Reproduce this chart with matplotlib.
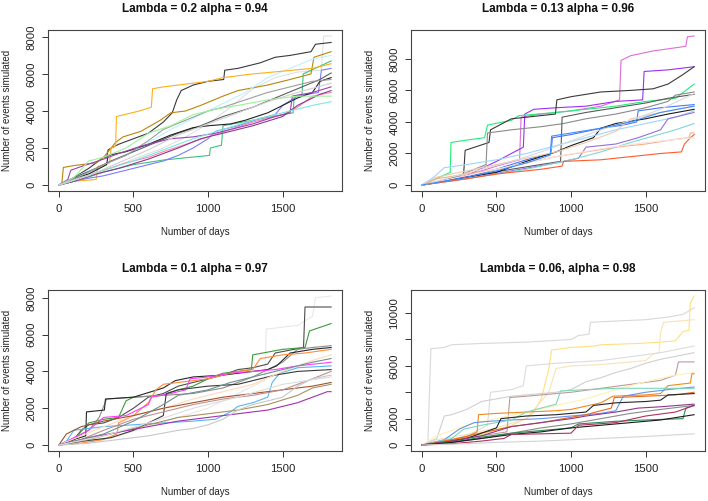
import matplotlib
matplotlib.use("Agg")
import matplotlib.pyplot as plt
from matplotlib.ticker import FixedLocator, FixedFormatter

plt.rcParams['font.family'] = ['Liberation Sans', 'DejaVu Sans']

END_DAY = 1825

TITLES = ["Lambda = 0.2 alpha = 0.94", "Lambda = 0.13 alpha = 0.96",
          "Lambda = 0.1 alpha = 0.97", "Lambda = 0.06, alpha = 0.98"]
X_TICKS = [0, 500, 1000, 1500]
Y_TICKS = [[0, 2000, 4000, 6000, 8000], [0, 2000, 4000, 6000, 8000],
           [0, 2000, 4000, 6000, 8000], [0, 2000, 4000, 6000, 8000, 10000]]
Y_LABELS = [["0", "2000", "4000", "6000", "8000"], ["0", "2000", "4000", "6000", "8000"],
            ["0", "2000", "4000", "6000", "8000"], ["0", "2000", "", "6000", "", "10000"]]

# ---------------- Panel 1 ----------------
P1_PATHS = [
    [(0,0),(80,200),(200,600),(350,900),(500,1400),(700,2000),(850,2600),(1000,3300),(1150,4200),(1300,5200),(1450,5800),(1600,6100),(1760,6200),(1775,8050),(1825,8050)],
    [(0,0),(40,100),(120,500),(200,900),(300,1500),(320,1500),(330,1900),(400,2200),(500,2500),(600,2800),(700,3400),(760,3900),(790,4600),(820,5100),(900,5400),(1000,5600),(1105,5700),(1112,6200),(1200,6300),(1350,6600),(1450,6900),(1550,7000),(1690,7200),(1720,7600),(1825,7700)],
    [(0,0),(20,100),(30,950),(100,1050),(250,1200),(300,1500),(380,2300),(430,2600),(550,2900),(680,3500),(750,3900),(850,4000),(950,4300),(1100,4800),(1200,5100),(1400,5400),(1550,5700),(1690,6000),(1710,6900),(1825,7200)],
    [(0,0),(150,600),(300,1100),(450,1600),(600,2300),(750,3000),(900,3600),(1100,4400),(1250,5000),(1400,5800),(1550,6300),(1700,6800),(1825,7000)],
    [(0,0),(150,300),(300,700),(500,1100),(700,1350),(1010,1600),(1015,2000),(1090,2150),(1100,3200),(1300,3500),(1500,3800),(1570,3900),(1578,4800),(1630,4900),(1638,6000),(1825,6700)],
    [(0,0),(100,200),(250,300),(260,1000),(340,1200),(350,2000),(380,2100),(386,3700),(540,4000),(620,4200),(628,5200),(700,5300),(850,5450),(1000,5600),(1100,5800),(1300,6000),(1500,6150),(1700,6300),(1825,6550)],
    [(0,0),(150,300),(300,500),(400,700),(550,1000),(700,1300),(800,1600),(900,2000),(1000,2500),(1050,2900),(1200,3200),(1350,3600),(1450,3800),(1500,4300),(1600,4800),(1740,5000),(1760,6200),(1825,6300)],
    [(0,0),(100,400),(250,900),(350,1300),(500,1800),(650,2300),(800,2800),(950,3200),(1100,3700),(1300,4200),(1450,4700),(1600,5200),(1750,5700),(1825,6050)],
    [(0,0),(80,300),(200,600),(320,1100),(330,1600),(450,1800),(600,2200),(750,2700),(900,3100),(1000,3200),(1150,3300),(1250,3500),(1400,3900),(1500,4300),(1600,4700),(1700,5000),(1750,5600),(1825,5800)],
    [(0,0),(150,500),(300,1100),(450,1600),(600,2400),(700,3000),(850,3500),(1000,4000),(1100,4200),(1250,4600),(1400,5000),(1550,5300),(1700,5600),(1825,5700)],
    [(0,0),(150,400),(300,800),(450,1200),(600,1500),(700,1800),(850,2200),(1000,2600),(1150,3000),(1300,3400),(1500,3800),(1600,4200),(1700,4800),(1825,5000)],
    [(0,0),(60,300),(80,800),(150,1000),(300,1400),(400,1700),(550,2100),(750,2500),(900,2600),(1050,2800),(1150,3000),(1300,3300),(1450,3700),(1550,3900),(1565,4800),(1700,5000),(1825,5300)],
    [(0,0),(100,200),(250,600),(400,900),(600,1400),(800,2000),(950,2500),(1100,2800),(1300,3200),(1500,3700),(1600,4300),(1750,4900),(1825,5100)],
    [(0,0),(100,400),(200,1300),(300,1500),(450,2000),(600,2800),(750,3200),(900,3800),(1050,4100),(1200,4300),(1400,4600),(1600,4800),(1825,4800)],
    [(0,0),(150,400),(300,800),(500,1300),(700,1900),(900,2500),(1100,3000),(1300,3500),(1500,3900),(1700,4300),(1825,4500)],
    [(0,0),(200,500),(400,1200),(600,1900),(800,2700),(1000,3300),(1200,3900),(1400,4500),(1600,5000),(1825,5500)],
]
P1_COLORS = ["#E0E0E0", "#3A3A3A", "#B8860B", "#BFEFFF", "#3CC47C", "#FFAE1A",
             "#7B7BFF", "#5E5E5E", "#222222", "#9E9E9E", "#FF82AB", "#A040B8",
             "#8B3A8B", "#98F598", "#7FE8E0", "#CFCFCF"]

# ---------------- Panel 2 ----------------
P2_PATHS = [
    [(0,0),(300,600),(500,1200),(655,1600),(665,4300),(800,4500),(1000,4700),(1200,5000),(1325,5400),(1335,7900),(1400,8200),(1550,8500),(1700,8700),(1770,8800),(1780,9400),(1825,9450)],
    [(0,0),(300,600),(500,1500),(680,2400),(690,4500),(750,4800),(900,4900),(1100,5000),(1300,5300),(1480,5400),(1490,7200),(1650,7300),(1825,7500)],
    [(0,0),(190,800),(195,2700),(300,2850),(420,3000),(440,3800),(600,4100),(650,4400),(900,4600),(1100,4800),(1300,5000),(1500,5300),(1700,5500),(1825,6400)],
    [(0,0),(150,300),(280,700),(290,2200),(450,2700),(460,3500),(520,3800),(600,4200),(700,4300),(895,4500),(905,5400),(1000,5600),(1200,5900),(1400,6000),(1550,6100),(1650,6400),(1750,7000),(1825,7500)],
    [(0,0),(200,400),(430,1300),(440,3300),(600,3500),(800,3700),(950,3900),(1100,4200),(1300,4500),(1500,4900),(1650,5300),(1700,5700),(1825,5900)],
    [(0,0),(300,500),(600,1000),(930,1500),(940,4300),(1100,4600),(1300,4900),(1500,5200),(1650,5500),(1825,5750)],
    [(0,0),(300,500),(500,1000),(700,1600),(865,2000),(875,3000),(1000,3200),(1200,3600),(1350,3800),(1440,4000),(1450,4700),(1600,4900),(1825,5100)],
    [(0,0),(300,500),(500,800),(700,1500),(900,2100),(1000,2500),(1150,3000),(1200,3600),(1300,3900),(1500,4200),(1650,4500),(1825,4800)],
    [(0,0),(80,500),(150,1100),(300,1300),(500,1600),(700,2000),(900,2500),(1100,3000),(1300,3500),(1500,3900),(1700,4300),(1825,4700)],
    [(0,0),(100,500),(300,900),(500,1300),(700,1700),(900,2100),(1100,2700),(1300,3400),(1400,4200),(1600,4600),(1825,5000)],
    [(0,0),(300,400),(600,900),(900,1400),(1050,1700),(1100,2400),(1300,2600),(1450,3000),(1600,3500),(1650,4200),(1825,4600)],
    [(0,0),(300,400),(500,700),(700,1000),(1000,1600),(1200,2100),(1400,2700),(1550,3100),(1700,3500),(1825,3900)],
    [(0,0),(100,400),(300,700),(500,1000),(700,1400),(900,1800),(1100,2100),(1300,2400),(1500,2600),(1700,2900),(1790,3000),(1800,3300),(1825,3300)],
    [(0,0),(300,400),(500,700),(800,1000),(940,1200),(950,1500),(1200,1600),(1400,1800),(1600,2000),(1740,2100),(1760,2600),(1800,3000),(1825,3200)],
    [(0,0),(300,600),(600,1200),(900,1800),(1200,2300),(1500,2700),(1825,3000)],
    [(0,0),(200,500),(400,1000),(600,1500),(800,2100),(1000,2800),(1200,3500),(1400,4100),(1600,4800),(1825,5800)],
    [(0,0),(300,500),(500,900),(700,1400),(860,1900),(870,3100),(1000,3300),(1200,3600),(1400,4000),(1600,4600),(1825,5000)],
]
P2_COLORS = ["#DA70D6", "#A030F0", "#22EE7A", "#3A3A3A", "#8A8A8A", "#5A5A5A",
             "#4876FF", "#1A1A1A", "#9CD6FF", "#EECBAD", "#9370DB", "#7FD8D8",
             "#F4B080", "#FF5A2A", "#FBE4E1", "#DADADA", "#3C8CFF"]

# ---------------- Panel 3 ----------------
P3_PATHS = [
    [(0,0),(200,200),(400,500),(600,1000),(800,1500),(1000,2000),(1150,2600),(1300,3200),(1380,3500),(1390,6300),(1600,6500),(1700,7000),(1720,8000),(1825,8100)],
    [(0,0),(100,300),(150,800),(200,1100),(300,1200),(400,1500),(500,2000),(600,2600),(700,2800),(800,3200),(900,3400),(1000,3600),(1100,3800),(1200,4100),(1300,4200),(1400,4400),(1450,5000),(1640,5300),(1650,7500),(1825,7500)],
    [(0,0),(100,300),(200,1200),(300,1400),(400,1500),(450,2400),(500,2600),(700,2700),(800,3000),(900,3200),(1000,3600),(1100,3900),(1200,4000),(1290,4100),(1300,4900),(1500,5200),(1650,5300),(1680,6200),(1825,6600)],
    [(0,0),(40,100),(200,800),(270,1500),(320,2500),(500,2600),(700,2700),(900,2800),(1100,3100),(1300,3700),(1500,4500),(1600,5200),(1700,5300),(1825,5400)],
    [(0,0),(100,300),(180,500),(185,1800),(305,1900),(312,2500),(500,2600),(700,3100),(780,3500),(900,3700),(1100,3800),(1300,4000),(1400,4100),(1460,4300),(1550,5000),(1700,5200),(1825,5300)],
    [(0,0),(150,100),(300,300),(390,600),(400,1200),(500,1600),(600,2300),(650,3000),(700,3300),(800,3400),(900,3500),(1000,3600),(1100,3800),(1200,4000),(1300,4100),(1350,4700),(1500,4900),(1650,5000),(1825,5200)],
    [(0,0),(100,400),(200,800),(300,1500),(450,1600),(600,2200),(620,2600),(750,2800),(850,3000),(880,3600),(1000,3700),(1150,3900),(1300,4000),(1450,4100),(1600,4300),(1825,4500)],
    [(0,0),(50,200),(100,800),(200,900),(300,1000),(500,1100),(700,1200),(900,1300),(1050,1400),(1150,1800),(1200,2100),(1300,2300),(1400,2600),(1430,3400),(1480,3900),(1600,4200),(1825,4300)],
    [(0,0),(150,200),(350,400),(500,800),(600,1200),(700,1600),(720,2800),(800,3000),(1000,3200),(1200,3300),(1300,3500),(1450,3800),(1600,4000),(1825,4100)],
    [(0,0),(150,500),(300,1000),(500,1600),(700,2000),(900,2500),(1100,2900),(1300,3300),(1500,4000),(1700,4600),(1825,4900)],
    [(0,0),(50,600),(150,1000),(300,1300),(500,1600),(700,2000),(900,2300),(1100,2600),(1300,2800),(1500,3000),(1700,3200),(1825,3400)],
    [(0,0),(150,300),(300,800),(500,1400),(700,1800),(900,2200),(1100,2500),(1300,2700),(1500,3000),(1700,3600),(1825,4000)],
    [(0,0),(200,300),(400,700),(600,1100),(800,1500),(1000,1700),(1200,1900),(1400,2200),(1600,2700),(1700,3100),(1825,3300)],
    [(0,0),(200,400),(400,700),(600,1000),(800,1300),(1000,1500),(1200,1700),(1400,1900),(1600,2300),(1700,2600),(1800,2900),(1825,2900)],
    [(0,0),(200,100),(400,300),(600,500),(800,800),(900,900),(1000,1100),(1100,1400),(1200,1900),(1300,2200),(1500,2600),(1600,3200),(1700,3600),(1825,3800)],
    [(0,0),(100,200),(300,600),(500,1300),(700,2200),(800,2700),(1000,3000),(1150,3400),(1300,3700),(1500,4100),(1700,4500),(1825,4700)],
    [(0,0),(300,500),(600,1200),(900,2000),(1200,2600),(1500,3300),(1825,3700)],
]
P3_COLORS = ["#E8E8E8", "#4D4D4D", "#3C9A3C", "#8C8C8C", "#262626", "#FF8C3A",
             "#FF3CFF", "#5AB4F0", "#3A3A3A", "#FFDAB9", "#A0522D", "#C09090",
             "#A89060", "#A032B0", "#C8C8C8", "#6F8F8F", "#DCDCDC"]

# ---------------- Panel 4 ----------------
P4_PATHS = [
    [(0,0),(40,100),(60,7300),(150,7400),(200,7600),(400,7700),(700,7800),(1000,8000),(1050,8300),(1120,8400),(1130,9300),(1300,9400),(1500,9500),(1650,9700),(1750,9900),(1825,10400)],
    [(0,0),(200,300),(400,800),(600,1500),(700,2000),(750,2500),(800,3500),(850,5700),(870,7200),(1000,7400),(1150,7500),(1200,7600),(1450,7700),(1600,7800),(1700,7900),(1750,8600),(1790,8700),(1800,10800),(1825,11300)],
    [(0,0),(100,400),(300,800),(500,1300),(700,2000),(850,4000),(900,5800),(1000,6000),(1200,6100),(1400,6300),(1500,6400),(1550,6900),(1590,7000),(1600,8500),(1620,9300),(1825,9500)],
    [(0,0),(150,300),(300,700),(440,1500),(460,4000),(600,4200),(680,4500),(700,6000),(900,6200),(1200,6400),(1400,6700),(1600,7000),(1825,7500)],
    [(0,0),(100,500),(150,2200),(200,2300),(300,2700),(400,3300),(500,3500),(550,3600),(600,3700),(700,3800),(900,4000),(1000,4200),(1100,4800),(1200,5100),(1300,5500),(1400,5800),(1500,6200),(1600,6500),(1825,7000)],
    [(0,0),(200,400),(400,700),(570,1000),(590,3600),(700,3700),(900,3900),(1000,4000),(1200,4300),(1400,4600),(1600,4900),(1700,5300),(1720,6300),(1825,6300)],
    [(0,0),(100,700),(300,1500),(500,2000),(700,2500),(900,3000),(1100,3500),(1300,4200),(1500,4800),(1700,5300),(1825,5500)],
    [(0,0),(150,300),(300,600),(370,1000),(380,2300),(500,2400),(700,2500),(900,2600),(1000,2700),(1200,3200),(1280,3700),(1500,3800),(1600,3900),(1650,4500),(1800,4700),(1810,5400),(1825,5400)],
    [(0,0),(150,400),(250,1200),(350,1700),(450,1800),(600,1900),(800,2000),(1000,2200),(1200,2400),(1300,2600),(1350,3700),(1500,4000),(1650,4200),(1825,4400)],
    [(0,0),(200,500),(280,1200),(400,1500),(600,1900),(700,2500),(900,3100),(930,4100),(1100,4200),(1300,4300),(1500,4300),(1825,4300)],
    [(0,0),(200,400),(350,800),(600,1400),(800,1700),(1000,2100),(1100,2300),(1200,2600),(1270,2800),(1290,3600),(1500,3700),(1700,3800),(1825,4000)],
    [(0,0),(150,200),(300,500),(400,900),(500,1300),(530,2000),(700,2200),(900,2300),(1100,2500),(1150,3000),(1300,3200),(1500,3300),(1600,3400),(1650,3800),(1825,3900)],
    [(0,0),(200,300),(400,700),(600,1400),(800,1700),(1000,2000),(1100,2200),(1300,2500),(1450,2800),(1600,2900),(1825,3100)],
    [(0,0),(200,200),(400,500),(600,900),(800,1300),(1000,1600),(1200,2000),(1400,2400),(1600,2700),(1825,3000)],
    [(0,0),(200,200),(400,600),(600,900),(800,1100),(1000,1300),(1050,1600),(1300,1800),(1500,1900),(1750,2000),(1770,2800),(1825,3000)],
    [(0,0),(200,200),(400,500),(600,800),(800,1000),(1000,1300),(1200,1500),(1400,1700),(1600,1900),(1825,2300)],
    [(0,0),(200,100),(400,300),(550,500),(600,800),(1000,900),(1050,1500),(1300,1700),(1500,2200),(1700,2500),(1825,3000)],
    [(0,0),(300,100),(500,200),(800,300),(1000,400),(1200,500),(1500,650),(1825,850)],
]
P4_COLORS = ["#D8D8D8", "#FFE080", "#F8E2B8", "#DCDCDC", "#D0D0D0", "#C09A9A",
             "#FFF0B8", "#F08A1A", "#6495ED", "#7CD8B8", "#E86A20", "#262626",
             "#8E388E", "#8A8A8A", "#2E8B57", "#1A1A1A", "#B03060", "#D4D4D4"]

PANELS = [(P1_PATHS, P1_COLORS), (P2_PATHS, P2_COLORS),
          (P3_PATHS, P3_COLORS), (P4_PATHS, P4_COLORS)]

W, H = 708, 501
fig = plt.figure(figsize=(W / 100, H / 100), dpi=100)
fig.patch.set_facecolor("white")

# axes rectangles in pixels (left, top, right, bottom)
RECTS = [(48, 30, 342, 191), (411, 30, 705, 191),
         (48, 290, 342, 451), (411, 290, 705, 451)]

for i, (paths, colors) in enumerate(PANELS):
    l, t, r, b = RECTS[i]
    ax = fig.add_axes([l / W, 1 - b / H, (r - l) / W, (b - t) / H])
    ymax = 0
    for path, c in zip(paths, colors):
        xs = [p[0] for p in path]
        ys = [p[1] for p in path]
        ymax = max(ymax, max(ys))
        ax.plot(xs, ys, color=c, lw=0.8, drawstyle="default")
    ax.set_xlim(-0.04 * END_DAY, END_DAY * 1.04)
    ax.set_ylim(-0.04 * ymax, ymax * 1.04)
    ax.xaxis.set_major_locator(FixedLocator(X_TICKS))
    ax.yaxis.set_major_locator(FixedLocator(Y_TICKS[i]))
    ax.yaxis.set_major_formatter(FixedFormatter(Y_LABELS[i]))
    ax.tick_params(axis="both", direction="out", length=4.5, width=0.7,
                   colors="#333333", labelsize=8.2, labelcolor="#222222")
    ax.tick_params(axis="x", pad=5)
    ax.tick_params(axis="y", pad=4, labelrotation=90)
    for lab in ax.get_yticklabels():
        lab.set_va("center")
    for s in ax.spines.values():
        s.set_color("#444444")
        s.set_linewidth(0.8)
    ax.set_title(TITLES[i], fontsize=8.5, fontweight="bold", pad=13, color="#111111")
    ax.set_xlabel("Number of days", fontsize=7, color="#222222")
    ax.set_ylabel("Number of events simulated", fontsize=7, color="#222222")
    ax.xaxis.set_label_coords(0.5, -41 / 161)
    ax.xaxis.label.set_va("center")
    ax.yaxis.set_label_coords(-41 / 294, 0.5)
    ax.yaxis.label.set_va("center")

fig.savefig("out.png", dpi=100, facecolor="white")
